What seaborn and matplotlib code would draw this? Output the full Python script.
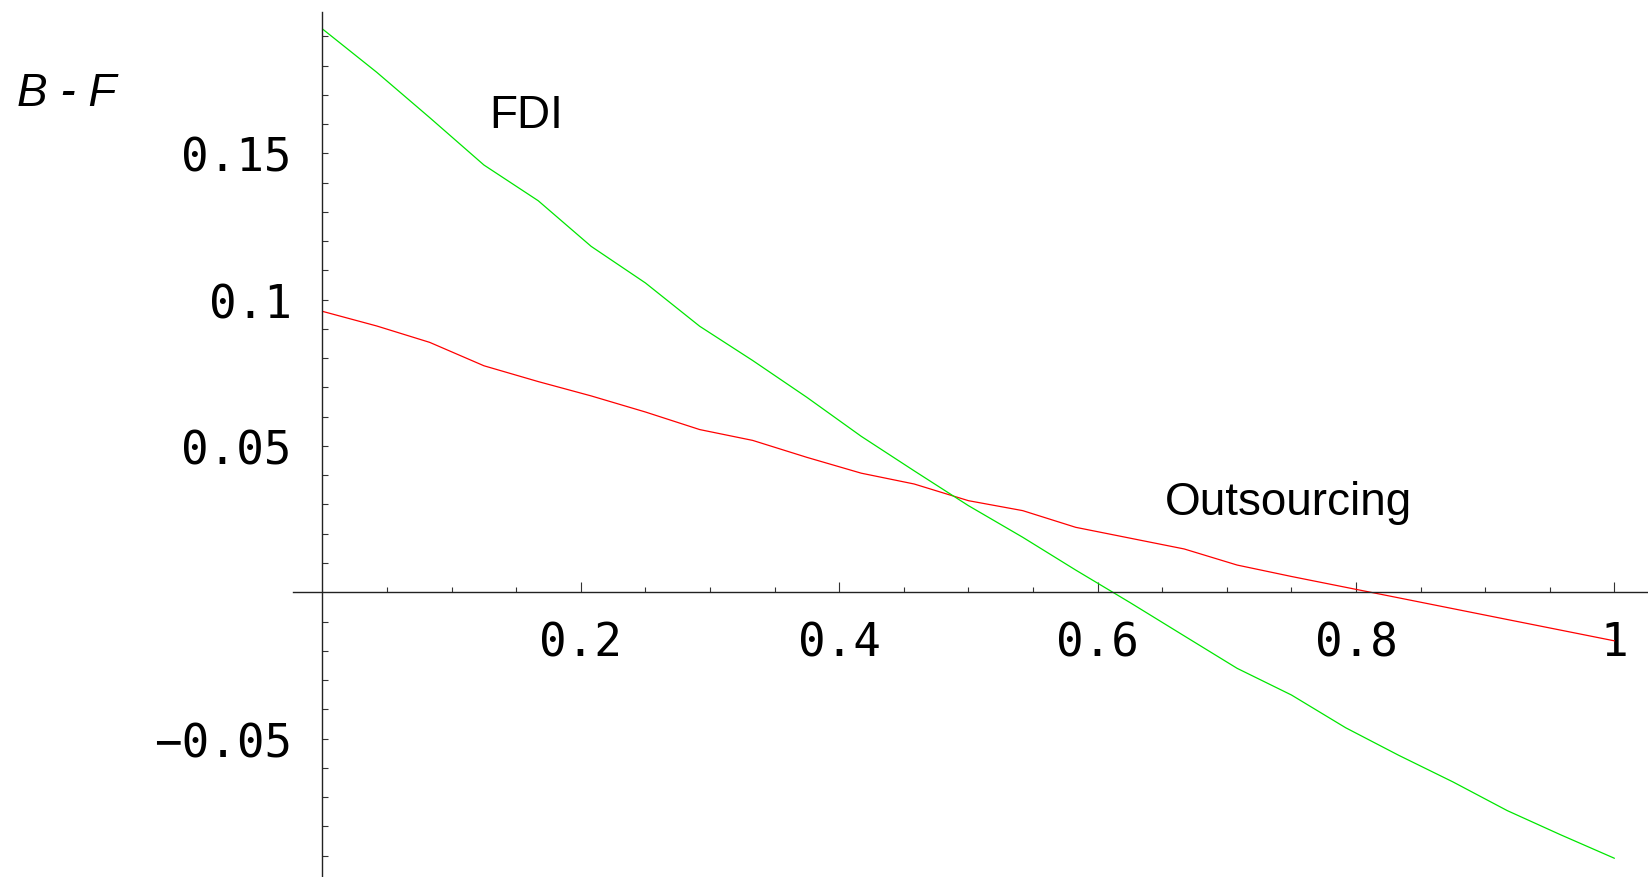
# FDI vs outsourcing: B - F against the share parameter
import numpy as np
import pandas as pd
import matplotlib
matplotlib.use("Agg")
import matplotlib.pyplot as plt
import seaborn as sns

# sample points along the x axis
x_vals = [0.0, 0.042, 0.083, 0.125, 0.167, 0.208, 0.25, 0.292, 0.333, 0.375,
          0.417, 0.458, 0.5, 0.542, 0.583, 0.625, 0.667, 0.708, 0.75, 0.792,
          0.833, 0.875, 0.917, 0.958, 1.0]

# B - F for FDI (green curve)
fdi_vals = [0.1925, 0.1777, 0.1622, 0.146, 0.1338, 0.1182, 0.1057, 0.0909,
            0.0792, 0.0666, 0.0533, 0.0415, 0.0296, 0.0188, 0.0076, -0.0035,
            -0.0149, -0.026, -0.0351, -0.0463, -0.0557, -0.0648, -0.0746,
            -0.0828, -0.0909]

# B - F for outsourcing (red curve)
out_vals = [0.096, 0.091, 0.0854, 0.0774, 0.072, 0.0671, 0.0616, 0.0556,
            0.0519, 0.0461, 0.0407, 0.037, 0.0313, 0.0279, 0.0222, 0.0185,
            0.0148, 0.0093, 0.0054, 0.0017, -0.0019, -0.0056, -0.0093,
            -0.0129, -0.0166]

x_ticks = [0.2, 0.4, 0.6, 0.8, 1.0]
x_labels = ["0.2", "0.4", "0.6", "0.8", "1"]
y_ticks = [-0.05, 0.05, 0.1, 0.15]
y_labels = ["\u22120.05", "0.05", "0.1", "0.15"]

df = pd.DataFrame({"x": x_vals, "FDI": fdi_vals, "Outsourcing": out_vals})

sns.set_style("white")
plt.rcParams["font.family"] = ["Liberation Sans", "DejaVu Sans"]
plt.rcParams["text.color"] = "black"

fig = plt.figure(figsize=(16.48, 8.78), dpi=100)
ax = fig.add_axes([0.1778, 0.0, 0.8222, 0.9852])

sns.lineplot(data=df, x="x", y="Outsourcing", color="#ff0000", linewidth=0.9,
             sort=False, estimator=None, ax=ax)
sns.lineplot(data=df, x="x", y="FDI", color="#00e600", linewidth=0.9,
             sort=False, estimator=None, ax=ax)

ax.set_xlim(-0.0228, 1.026)
ax.set_ylim(-0.0973, 0.1983)

# axes crossing at the origin, Mathematica style
for side in ["top", "right"]:
    ax.spines[side].set_visible(False)
ax.spines["left"].set_position(("data", 0))
ax.spines["bottom"].set_position(("data", 0))
for side in ["left", "bottom"]:
    ax.spines[side].set_color("#222222")
    ax.spines[side].set_linewidth(1.0)

ax.set_xticks(x_ticks)
ax.set_xticklabels(x_labels)
ax.set_yticks(y_ticks)
ax.set_yticklabels(y_labels)

x_minor = [v / 100 for v in range(5, 100, 5) if v % 20 != 0]
y_minor = [v / 100 for v in range(-9, 20) if v != 0 and v % 5 != 0]
ax.set_xticks(x_minor, minor=True)
ax.set_yticks(y_minor, minor=True)

ax.tick_params(axis="x", which="major", bottom=True, direction="in", length=7,
               width=0.8, color="#333333", pad=20, labelsize=33,
               labelcolor="black")
ax.tick_params(axis="x", which="minor", bottom=True, direction="in",
               length=3.6, width=0.8, color="#333333")
ax.tick_params(axis="y", which="both", left=True, direction="in", length=4,
               width=0.8, color="#333333", pad=22, labelsize=33,
               labelcolor="black")
for lab in ax.get_xticklabels() + ax.get_yticklabels():
    lab.set_family("DejaVu Sans Mono")

ax.set_xlabel("")
ax.set_ylabel("")

ax.text(0.1577, 0.1589, "FDI", fontsize=33, ha="center", va="baseline",
        color="black")
ax.text(0.748, 0.0268, "Outsourcing", fontsize=33, ha="center",
        va="baseline", color="black")
fig.text(0.0404, 0.8793, "B - F", fontsize=33, style="italic",
         ha="center", va="baseline", color="black")

fig.savefig("out.png", dpi=100)
